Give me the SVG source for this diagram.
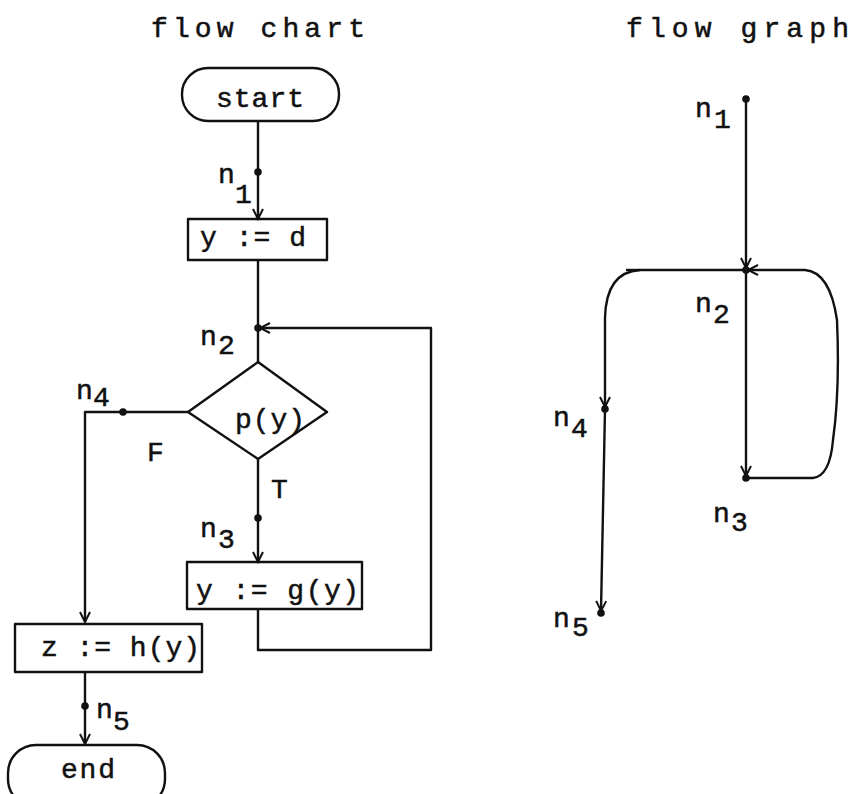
<svg xmlns="http://www.w3.org/2000/svg" width="859" height="794" viewBox="0 0 859 794">
<style>
.s{fill:none;stroke:#111;stroke-width:2.4;stroke-linejoin:round}
.t{font-family:"Liberation Mono","DejaVu Sans Mono",monospace;font-size:28px;fill:#111;stroke:#111;stroke-width:0.5}
.d{fill:#111}
</style>
<defs>
<marker id="a" markerUnits="userSpaceOnUse" viewBox="-12 -7 14 14" markerWidth="14" markerHeight="14" refX="0" refY="0" orient="auto">
<path d="M-10,-5 L0,0 L-10,5" fill="none" stroke="#111" stroke-width="2"/>
</marker>
</defs>
<rect width="859" height="794" fill="#fff"/>
<text class="t" x="151" y="37" textLength="214" lengthAdjust="spacing">flow chart</text>
<text class="t" x="626" y="37" textLength="223" lengthAdjust="spacing">flow graph</text>

<g id="start"><rect class="s" x="182" y="68" width="157" height="53" rx="26"/><text class="t" x="216" y="107" textLength="88" lengthAdjust="spacing">start</text></g>
<g id="assign_d"><rect class="s" x="188" y="219" width="139" height="41"/><text class="t" x="200" y="246" textLength="106" lengthAdjust="spacing">y := d</text></g>
<g id="decision"><polygon class="s" points="258,362 327,412 258,459 188,412"/><text class="t" x="235" y="428" textLength="70" lengthAdjust="spacing">p(y)</text></g>
<g id="assign_g"><rect class="s" x="187" y="562" width="175" height="47"/><text class="t" x="196" y="599" textLength="163" lengthAdjust="spacing">y := g(y)</text></g>
<g id="assign_h"><rect class="s" x="15" y="624" width="187" height="48"/><text class="t" x="41" y="656" textLength="159" lengthAdjust="spacing">z := h(y)</text></g>
<g id="end"><rect class="s" x="8" y="745" width="157" height="62" rx="28"/><text class="t" x="61" y="778" textLength="54" lengthAdjust="spacing">end</text></g>

<g id="connectors">
<path class="s" d="M258,121 V219" marker-end="url(#a)"/>
<path class="s" d="M258,260 V362"/>
<path class="s" d="M258,609 V650 H431 V328 H260" marker-end="url(#a)"/>
<path class="s" d="M258,459 V562" marker-end="url(#a)"/>
<path class="s" d="M188,412 H85 V622" marker-end="url(#a)"/>
<path class="s" d="M85,672 V744" marker-end="url(#a)"/>
<circle class="d" cx="258" cy="172" r="3.8"/>
<circle class="d" cx="258" cy="328" r="3.8"/>
<circle class="d" cx="258" cy="518" r="3.8"/>
<circle class="d" cx="123" cy="412" r="3.8"/>
<circle class="d" cx="85" cy="706" r="3.8"/>

<path class="s" d="M746,99 V268" marker-end="url(#a)"/>
<path class="s" d="M746,270 V476" marker-end="url(#a)"/>
<path class="s" d="M746,270 H640 Q606,272 605,318 V407" marker-end="url(#a)"/>
<path class="s" d="M605,409 L601,611" marker-end="url(#a)"/>
<path class="s" d="M746,478 H813 Q830,476 833,440 Q840,390 837,320 Q830,272 805,270 H748" marker-end="url(#a)"/>
<path class="s" d="M626,270 H640"/>
<circle class="d" cx="746" cy="99" r="3.8"/>
<circle class="d" cx="746" cy="270" r="3.8"/>
<circle class="d" cx="746" cy="478" r="3.8"/>
<circle class="d" cx="605" cy="409" r="3.8"/>
<circle class="d" cx="601" cy="613" r="3.8"/>
</g>

<g id="labels">
<text class="t" x="147" y="461">F</text>
<text class="t" x="271" y="498">T</text>
<text class="t" x="218" y="183">n</text><text class="t" x="235" y="203">1</text>
<text class="t" x="200" y="345">n</text><text class="t" x="218" y="354">2</text>
<text class="t" x="76" y="399">n</text><text class="t" x="93" y="406">4</text>
<text class="t" x="200" y="537">n</text><text class="t" x="218" y="548">3</text>
<text class="t" x="96" y="718">n</text><text class="t" x="113" y="730">5</text>
<text class="t" x="695" y="117">n</text><text class="t" x="714" y="128">1</text>
<text class="t" x="695" y="312">n</text><text class="t" x="713" y="323">2</text>
<text class="t" x="553" y="426">n</text><text class="t" x="571" y="437">4</text>
<text class="t" x="713" y="522">n</text><text class="t" x="731" y="531">3</text>
<text class="t" x="553" y="627">n</text><text class="t" x="572" y="636">5</text>
</g>
</svg>
